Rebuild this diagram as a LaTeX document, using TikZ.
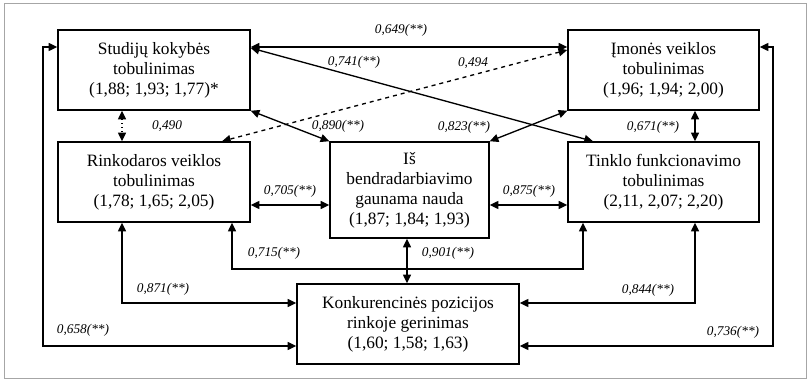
\documentclass[tikz,border=0pt]{standalone}
\usepackage{fontspec}
\setmainfont{Liberation Serif}
\usepackage{tikz}
\usetikzlibrary{arrows.meta}
\tikzset{>={Triangle[length=6.5pt,width=6pt]}}
\tikzset{%
    box/.style={draw,line width=1.1pt,align=center,inner sep=0pt,
        font=\fontsize{13}{15}\selectfont},
    link/.style={line width=1pt,<->},
    val/.style={font=\fontsize{10}{12}\selectfont\itshape,inner sep=1pt}
}

\begin{document}
\begin{tikzpicture}[x=0.75pt,y=-0.75pt]
\useasboundingbox (0,0) rectangle (811,381);
\draw[gray!70,line width=0.6pt] (4,3) rectangle (806,378);
\node[box,minimum width=144pt,minimum height=60pt] (stud) at (154,70)
    {Studijų kokybės\\tobulinimas\\(1,88; 1,93; 1,77)*};
\node[box,minimum width=143.25pt,minimum height=60pt] (imon) at (663.5,70)
    {Įmonės veiklos\\tobulinimas\\(1,96; 1,94; 2,00)};
\node[box,minimum width=144pt,minimum height=60pt] (rink) at (154,182)
    {Rinkodaros veiklos\\tobulinimas\\(1,78; 1,65; 2,05)};
\node[box,minimum width=119.25pt,minimum height=72pt] (is) at (409.5,190)
    {Iš\\bendradarbiavimo\\gaunama nauda\\(1,87; 1,84; 1,93)};
\node[box,minimum width=143.25pt,minimum height=60pt] (tink) at (663.5,182)
    {Tinklo funkcionavimo\\tobulinimas\\(2,11, 2,07; 2,20)};
\node[box,minimum width=166.5pt,minimum height=60pt] (konk) at (408,324)
    {Konkurencinės pozicijos\\rinkoje gerinimas\\(1,60; 1,58; 1,63)};

\draw[link] (stud.east |- 0,47) -- (imon.west |- 0,47);
\draw[link] (stud.east |- 0,48) -- (tink.north -| 593,0);
\draw[link,dashed] (imon.west |- 0,50) -- (rink.north -| 222,0);
\draw[link] (stud.south east) -- (is.north west);
\draw[link] (imon.south west) -- (is.north east);
\draw[link,dotted] (stud.south -| 122,0) -- (rink.north -| 122,0);
\draw[link] (imon.south -| 695,0) -- (tink.north -| 695,0);
\draw[link] (rink.east |- 0,205) -- (is.west |- 0,205);
\draw[link] (is.east |- 0,205) -- (tink.west |- 0,205);
\draw[link] (is.south -| 407,0) -- (konk.north -| 407,0);
\draw[link] (rink.south -| 232,0) -- (232,269) -| (tink.south -| 583,0);
\draw[link] (rink.south -| 122,0) |- (konk.west |- 0,303);
\draw[link] (tink.south -| 695,0) |- (konk.east |- 0,303);
\draw[link] (stud.west |- 0,47) -| (43,346) -- (konk.west |- 0,346);
\draw[link] (imon.east |- 0,47) -| (773,346) -- (konk.east |- 0,346);

\node[val] (v649) at (401,30)  {0,649(**)};
\node[val] (v741) at (354,62)  {0,741(**)};
\node[val] (v494) at (473,63)  {0,494};
\node[val] (v490) at (167,126) {0,490};
\node[val] (v890) at (338,126) {0,890(**)};
\node[val] (v823) at (464,127) {0,823(**)};
\node[val] (v671) at (653,127) {0,671(**)};
\node[val] (v705) at (290,191) {0,705(**)};
\node[val] (v875) at (529,191) {0,875(**)};
\node[val] (v715) at (274,253) {0,715(**)};
\node[val] (v901) at (448,253) {0,901(**)};
\node[val] (v871) at (163,289) {0,871(**)};
\node[val] (v844) at (648,290) {0,844(**)};
\node[val] (v658) at (83,330)  {0,658(**)};
\node[val] (v736) at (733,332) {0,736(**)};
\end{tikzpicture}
\end{document}
